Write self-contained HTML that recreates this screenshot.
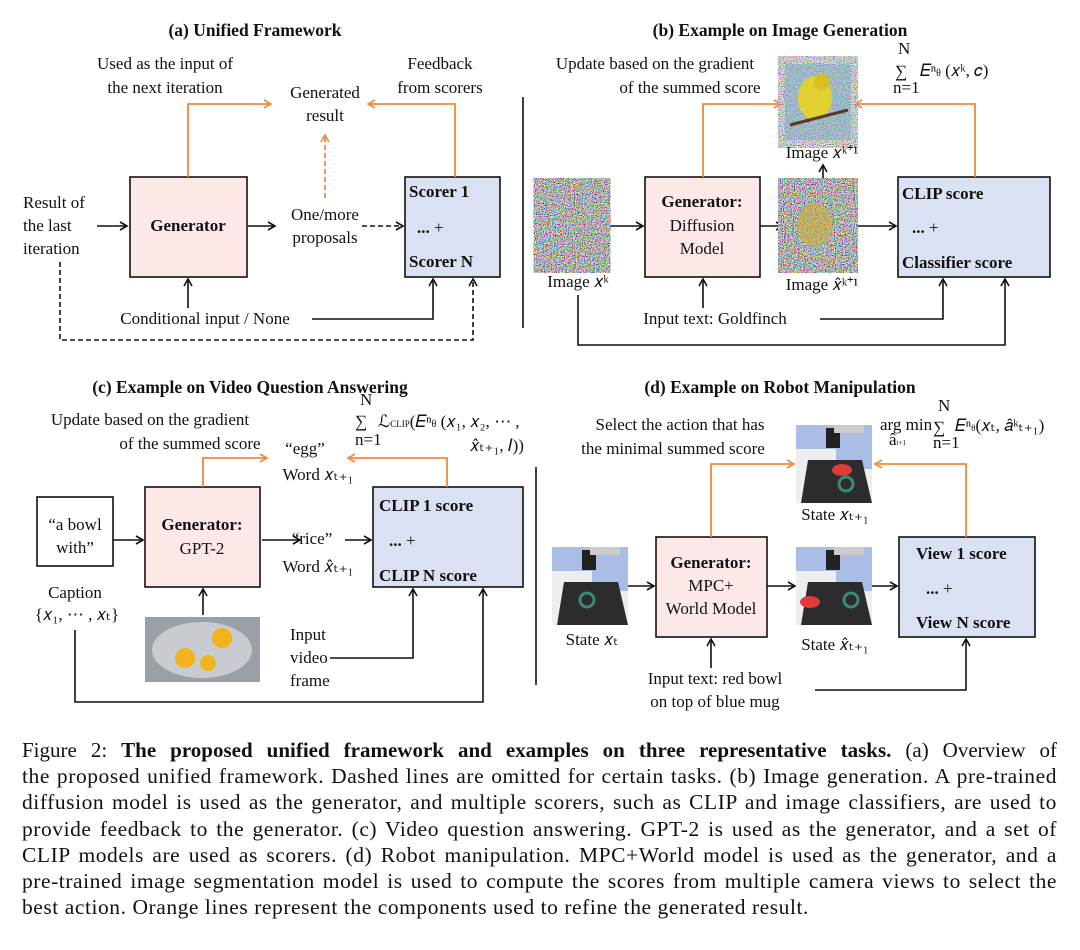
<!DOCTYPE html>
<html><head><meta charset="utf-8"><style>
body{margin:0;background:#fff;width:1080px;height:950px;overflow:hidden;position:relative}
svg{position:absolute;left:0;top:0}
text{font-family:"Liberation Serif",serif;font-size:17px;fill:#111}
.b{font-weight:bold}
.t{font-weight:bold;font-size:17.5px}
#cap{position:absolute;left:22px;top:737px;width:1035px;font-family:"Liberation Serif",serif;font-size:21.5px;letter-spacing:0.55px;line-height:26.2px;color:#111}
#cap div{white-space:nowrap;text-align:justify;text-align-last:justify;overflow:visible}
#cap div.l{text-align-last:left}
</style></head><body>
<svg width="1080" height="730" viewBox="0 0 1080 730">
<defs>
<marker id="ak" markerWidth="10" markerHeight="10" refX="8" refY="5" orient="auto" markerUnits="userSpaceOnUse"><path d="M1,1 L8,5 L1,9" fill="none" stroke="#111" stroke-width="1.6"/></marker>
<marker id="ao" markerWidth="10" markerHeight="10" refX="8" refY="5" orient="auto" markerUnits="userSpaceOnUse"><path d="M1,1 L8,5 L1,9" fill="none" stroke="#ee8a3c" stroke-width="1.6"/></marker>
<filter id="nz"><feTurbulence type="fractalNoise" baseFrequency="0.9" numOctaves="2" seed="3"/><feColorMatrix type="matrix" values="3 0 0 0 -1  0 3 0 0 -1  0 0 3 0 -1  0 0 0 0 1"/></filter>
<g id="rob">
<rect x="0" y="0" width="76" height="78" fill="#eeeeee"/>
<rect x="0" y="0" width="76" height="24" fill="#a9bde6"/>
<rect x="40" y="24" width="36" height="20" fill="#a9bde6"/>
<rect x="30" y="3" width="14" height="20" fill="#222"/>
<rect x="38" y="0" width="30" height="8" fill="#ccc"/>
<polygon points="5,78 12,35 66,35 76,78" fill="#2c2c2c"/>
</g>
</defs>
<g stroke="#111" stroke-width="1.6" fill="none">
<rect x="130" y="177" width="117" height="100" fill="#fde8e8"/>
<rect x="405" y="177" width="95" height="100" fill="#d9e1f2"/>
<line x1="97" y1="226" x2="127" y2="226" marker-end="url(#ak)"/>
<line x1="248" y1="226" x2="275" y2="226" marker-end="url(#ak)"/>
<line x1="362" y1="226" x2="403" y2="226" stroke-dasharray="5,3" marker-end="url(#ak)"/>
<line x1="188" y1="308" x2="188" y2="279" marker-end="url(#ak)"/>
<polyline points="312,319 433,319 433,279" marker-end="url(#ak)"/>
<polyline points="60,262 60,340 473,340 473,279" stroke-dasharray="5,3" marker-end="url(#ak)"/>
<line x1="523" y1="97" x2="523" y2="328"/>
<rect x="645" y="177" width="115" height="100" fill="#fde8e8"/>
<rect x="898" y="177" width="152" height="100" fill="#d9e1f2"/>
<line x1="604" y1="226" x2="643" y2="226" marker-end="url(#ak)"/>
<line x1="760" y1="226" x2="783" y2="226" marker-end="url(#ak)"/>
<line x1="852" y1="226" x2="896" y2="226" marker-end="url(#ak)"/>
<line x1="823" y1="180" x2="823" y2="165" marker-end="url(#ak)"/>
<line x1="703" y1="308" x2="703" y2="279" marker-end="url(#ak)"/>
<polyline points="820,319 943,319 943,279" marker-end="url(#ak)"/>
<polyline points="578,295 578,345 1005,345 1005,279" marker-end="url(#ak)"/>
<rect x="37" y="497" width="76" height="69" fill="#fff"/>
<rect x="145" y="487" width="115" height="100" fill="#fde8e8"/>
<rect x="373" y="487" width="150" height="100" fill="#d9e1f2"/>
<line x1="113" y1="540" x2="143" y2="540" marker-end="url(#ak)"/>
<line x1="262" y1="540" x2="300" y2="540" marker-end="url(#ak)"/>
<line x1="345" y1="540" x2="371" y2="540" marker-end="url(#ak)"/>
<line x1="203" y1="615" x2="203" y2="589" marker-end="url(#ak)"/>
<polyline points="330,658 413,658 413,589" marker-end="url(#ak)"/>
<polyline points="75,630 75,702 483,702 483,589" marker-end="url(#ak)"/>
<line x1="536" y1="467" x2="536" y2="685"/>
<rect x="656" y="537" width="111" height="100" fill="#fde8e8"/>
<rect x="899" y="537" width="136" height="100" fill="#d9e1f2"/>
<line x1="628" y1="586" x2="654" y2="586" marker-end="url(#ak)"/>
<line x1="767" y1="586" x2="795" y2="586" marker-end="url(#ak)"/>
<line x1="872" y1="586" x2="897" y2="586" marker-end="url(#ak)"/>
<line x1="711" y1="668" x2="711" y2="639" marker-end="url(#ak)"/>
<polyline points="815,690 966,690 966,639" marker-end="url(#ak)"/>
</g>
<g stroke="#ee8a3c" stroke-width="1.8" fill="none">
<polyline points="188,177 188,104 271,104" marker-end="url(#ao)"/>
<polyline points="455,177 455,104 368,104" marker-end="url(#ao)"/>
<line x1="325" y1="198" x2="325" y2="135" stroke-dasharray="5,3" marker-end="url(#ao)"/>
<polyline points="703,177 703,104 781,104" marker-end="url(#ao)"/>
<polyline points="975,177 975,104 855,104" marker-end="url(#ao)"/>
<polyline points="203,487 203,458 267,458" marker-end="url(#ao)"/>
<polyline points="447,487 447,458 348,458" marker-end="url(#ao)"/>
<polyline points="711,537 711,464 794,464" marker-end="url(#ao)"/>
<polyline points="966,537 966,464 875,464" marker-end="url(#ao)"/>
</g>
<rect x="540" y="186" width="64" height="79" filter="url(#nz)"/>
<rect x="785" y="186" width="66" height="79" filter="url(#nz)"/>
<ellipse cx="815" cy="225" rx="18" ry="22" fill="#c9b23a" opacity="0.6"/>
<rect x="785" y="64" width="66" height="76" filter="url(#nz)" opacity="0.7"/>
<rect x="785" y="64" width="66" height="76" fill="#6fa8c8" opacity="0.45"/>
<ellipse cx="815" cy="98" rx="17" ry="22" fill="#e0d030"/>
<circle cx="822" cy="82" r="8" fill="#d8c020"/>
<line x1="790" y1="125" x2="848" y2="110" stroke="#5a3a20" stroke-width="3"/>
<rect x="145" y="617" width="115" height="65" fill="#9aa0a6"/>
<ellipse cx="202" cy="650" rx="50" ry="28" fill="#c8ccd0"/>
<circle cx="185" cy="658" r="10" fill="#f2b21c"/><circle cx="222" cy="638" r="10" fill="#f2b21c"/><circle cx="208" cy="663" r="8" fill="#f2b21c"/>
<use href="#rob" x="552" y="547"/>
<use href="#rob" x="796" y="547"/>
<use href="#rob" x="796" y="425"/>
<circle cx="587" cy="600" r="7" fill="none" stroke="#3a8a7a" stroke-width="3"/>
<circle cx="851" cy="600" r="7" fill="none" stroke="#3a8a7a" stroke-width="3"/>
<ellipse cx="810" cy="602" rx="10" ry="6" fill="#e03a3a"/>
<circle cx="846" cy="484" r="7" fill="none" stroke="#3a8a7a" stroke-width="3"/>
<ellipse cx="842" cy="470" rx="10" ry="6" fill="#e03a3a"/>
<g text-anchor="middle">
<text x="255" y="36" class="t">(a) Unified Framework</text>
<text x="165" y="69">Used as the input of</text>
<text x="165" y="93">the next iteration</text>
<text x="325" y="98">Generated</text>
<text x="325" y="121">result</text>
<text x="440" y="69">Feedback</text>
<text x="440" y="93">from scorers</text>
<text x="188" y="231" class="b">Generator</text>
<text x="325" y="220">One/more</text>
<text x="325" y="243">proposals</text>
<text x="205" y="324">Conditional input / None</text>
<text x="780" y="36" class="t">(b) Example on Image Generation</text>
<text x="655" y="69">Update based on the gradient</text>
<text x="690" y="93">of the summed score</text>
<text x="702" y="207" class="b">Generator:</text>
<text x="702" y="231">Diffusion</text>
<text x="702" y="254">Model</text>
<text x="578" y="287">Image 𝑥ᵏ</text>
<text x="822" y="158">Image 𝑥ᵏ⁺¹</text>
<text x="822" y="290">Image 𝑥̂ᵏ⁺¹</text>
<text x="715" y="324">Input text: Goldfinch</text>
<text x="250" y="393" class="t">(c) Example on Video Question Answering</text>
<text x="150" y="425">Update based on the gradient</text>
<text x="190" y="449">of the summed score</text>
<text x="305" y="454">“egg”</text>
<text x="318" y="480">Word 𝑥ₜ₊₁</text>
<text x="75" y="530">“a bowl</text>
<text x="75" y="553">with”</text>
<text x="202" y="530" class="b">Generator:</text>
<text x="202" y="554">GPT-2</text>
<text x="312" y="544">“rice”</text>
<text x="318" y="572">Word 𝑥̂ₜ₊₁</text>
<text x="75" y="598">Caption</text>
<text x="77" y="620">{𝑥₁, ⋯ , 𝑥ₜ}</text>
<text x="780" y="393" class="t">(d) Example on Robot Manipulation</text>
<text x="680" y="430">Select the action that has</text>
<text x="673" y="454">the minimal summed score</text>
<text x="835" y="520">State 𝑥ₜ₊₁</text>
<text x="711" y="568" class="b">Generator:</text>
<text x="711" y="591">MPC+</text>
<text x="711" y="614">World Model</text>
<text x="592" y="645">State 𝑥ₜ</text>
<text x="835" y="650">State 𝑥̂ₜ₊₁</text>
<text x="715" y="684">Input text: red bowl</text>
<text x="715" y="707">on top of blue mug</text>
</g>
<text x="23" y="208">Result of</text>
<text x="23" y="231">the last</text>
<text x="23" y="254">iteration</text>
<text x="290" y="640">Input</text>
<text x="290" y="663">video</text>
<text x="290" y="686">frame</text>
<text x="409" y="197" class="b">Scorer 1</text>
<text x="417" y="233" class="b">... <tspan font-weight="normal">+</tspan></text>
<text x="409" y="267" class="b">Scorer N</text>
<text x="902" y="199" class="b">CLIP score</text>
<text x="912" y="233" class="b">... <tspan font-weight="normal">+</tspan></text>
<text x="902" y="268" class="b">Classifier score</text>
<text x="379" y="511" class="b">CLIP 1 score</text>
<text x="389" y="546" class="b">... <tspan font-weight="normal">+</tspan></text>
<text x="379" y="581" class="b">CLIP N score</text>
<text x="916" y="559" class="b">View 1 score</text>
<text x="926" y="594" class="b">... <tspan font-weight="normal">+</tspan></text>
<text x="916" y="628" class="b">View N score</text>
<text x="895" y="77" font-size="22">∑</text><text x="898" y="54" font-size="10">N</text><text x="893" y="93" font-size="10">n=1</text>
<text x="920" y="76" font-size="15">𝐸ⁿ<tspan font-size="10">θ</tspan> (𝑥ᵏ, 𝑐)</text>
<text x="355" y="427" font-size="22">∑</text><text x="360" y="405" font-size="10">N</text><text x="355" y="445" font-size="10">n=1</text>
<text x="378" y="427" font-size="15">ℒ<tspan font-size="9">CLIP</tspan>(𝐸ⁿ<tspan font-size="10">θ</tspan> (𝑥₁, 𝑥₂, ⋯ ,</text>
<text x="470" y="451" font-size="15">𝑥̂ₜ₊₁, 𝐼))</text>
<text x="880" y="430" font-size="12">arg min</text><text x="889" y="445" font-size="9">â<tspan font-size="7">t+1</tspan></text>
<text x="933" y="433" font-size="22">∑</text><text x="938" y="411" font-size="10">N</text><text x="933" y="448" font-size="10">n=1</text>
<text x="955" y="431" font-size="14">𝐸ⁿ<tspan font-size="9">θ</tspan>(𝑥ₜ, 𝑎̂ᵏₜ₊₁)</text>
</svg>
<div id="cap">
<div style="letter-spacing:0;font-size:21px">Figure 2: <b>The proposed unified framework and examples on three representative tasks.</b> (a) Overview of</div>
<div>the proposed unified framework. Dashed lines are omitted for certain tasks. (b) Image generation. A pre-trained</div>
<div>diffusion model is used as the generator, and multiple scorers, such as CLIP and image classifiers, are used to</div>
<div>provide feedback to the generator. (c) Video question answering. GPT-2 is used as the generator, and a set of</div>
<div>CLIP models are used as scorers. (d) Robot manipulation. MPC+World model is used as the generator, and a</div>
<div>pre-trained image segmentation model is used to compute the scores from multiple camera views to select the</div>
<div class="l">best action. Orange lines represent the components used to refine the generated result.</div>
</div>
</body></html>
